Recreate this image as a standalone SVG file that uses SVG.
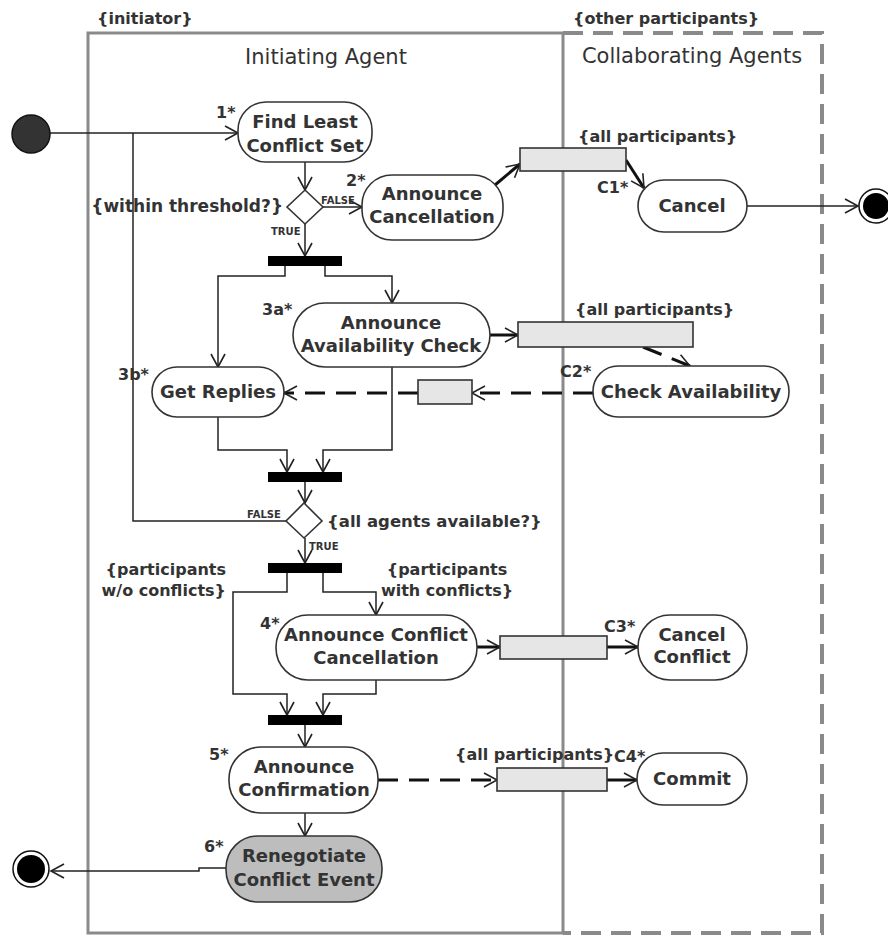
<svg xmlns="http://www.w3.org/2000/svg" width="888" height="936" viewBox="0 0 888 936">
<defs>
<style>
.t{font-family:"DejaVu Sans",Verdana,sans-serif;font-weight:bold;fill:#333}
.n{font-size:18px;text-anchor:middle}
.l{font-size:16px}
.s{font-size:10px}
.h{font-family:"DejaVu Sans",Verdana,sans-serif;font-size:21px;fill:#333;text-anchor:middle}
.node{fill:#fff;stroke:#333;stroke-width:1.6}
.obj{fill:#e6e6e6;stroke:#333;stroke-width:1.6}
.bar{fill:#000}
.c{fill:none;stroke:#222;stroke-width:1.5}
.k{fill:none;stroke:#111;stroke-width:3}
.d{fill:none;stroke:#111;stroke-width:3;stroke-dasharray:20 11}
.lane{fill:none;stroke:#8a8a8a;stroke-width:3}
.dl{fill:none;stroke:#8a8a8a;stroke-width:4;stroke-dasharray:20 10}
</style>
<marker id="a" markerUnits="userSpaceOnUse" markerWidth="16" markerHeight="16" refX="14" refY="8" orient="auto">
<path d="M1,1 L14,8 L1,15" fill="none" stroke="#222" stroke-width="1.6"/>
</marker>
</defs>
<rect width="888" height="936" fill="#fff"/>

<g id="lanes">
<rect class="lane" x="88" y="33" width="475" height="900"/>
<path class="dl" d="M563,33 H822 V933 H563"/>
<text class="t l" x="97" y="24">{initiator}</text>
<text class="t l" x="573" y="24">{other participants}</text>
<text class="h" x="326" y="64">Initiating Agent</text>
<text class="h" x="692" y="63">Collaborating Agents</text>
</g>

<g id="connectors">
<path class="c" d="M50,133 H238" marker-end="url(#a)"/>
<path class="c" d="M286,521 H133 V133"/>
<path class="c" d="M305,162 V190" marker-end="url(#a)"/>
<path class="c" d="M323,207 H362" marker-end="url(#a)"/>
<path class="c" d="M305,224 V256" marker-end="url(#a)"/>
<path class="k" d="M495,185 L520,164" marker-end="url(#a)"/>
<path class="k" d="M626,160 L644,188" marker-end="url(#a)"/>
<path class="c" d="M747,206 H858" marker-end="url(#a)"/>
<path class="c" d="M285,266 V276 H218 V367" marker-end="url(#a)"/>
<path class="c" d="M325,266 V276 H392 V303" marker-end="url(#a)"/>
<path class="k" d="M490,335 H518" marker-end="url(#a)"/>
<path class="d" d="M643,347 L690,366" marker-end="url(#a)"/>
<path class="d" d="M593,393 H472" marker-end="url(#a)"/>
<path class="d" d="M418,393 H284" marker-end="url(#a)"/>
<path class="c" d="M218,417 V450 H287 V472" marker-end="url(#a)"/>
<path class="c" d="M392,367 V450 H323 V472" marker-end="url(#a)"/>
<path class="c" d="M305,482 V503" marker-end="url(#a)"/>
<path class="c" d="M305,538 V563" marker-end="url(#a)"/>
<path class="c" d="M287,573 V592 H233 V694 H287 V715" marker-end="url(#a)"/>
<path class="c" d="M323,573 V592 H376 V615" marker-end="url(#a)"/>
<path class="c" d="M376,680 V694 H323 V715" marker-end="url(#a)"/>
<path class="k" d="M477,647 H500" marker-end="url(#a)"/>
<path class="k" d="M607,647 H638" marker-end="url(#a)"/>
<path class="c" d="M305,725 V747" marker-end="url(#a)"/>
<path class="d" d="M378,780 H497" marker-end="url(#a)"/>
<path class="k" d="M607,780 H637" marker-end="url(#a)"/>
<path class="c" d="M305,813 V836" marker-end="url(#a)"/>
<path class="c" d="M227,868 H199 V871 H51" marker-end="url(#a)"/>
</g>

<g id="start"><circle cx="31" cy="134" r="19" fill="#333" stroke="#111" stroke-width="1.5"/></g>

<g id="n1">
<rect class="node" x="238" y="102" width="134" height="60" rx="28"/>
<text class="t n" x="305" y="128">Find Least</text>
<text class="t n" x="305" y="152">Conflict Set</text>
<text class="t l" x="216" y="118">1*</text>
</g>

<g id="dec1">
<path class="node" d="M305,190 L323,207 L305,224 L287,207 Z"/>
<text class="t l" x="283" y="212" text-anchor="end" style="font-size:17px">{within threshold?}</text>
<text class="t s" x="321" y="204">FALSE</text>
<text class="t s" x="271" y="235">TRUE</text>
</g>

<g id="n2">
<rect class="node" x="362" y="175" width="141" height="65" rx="30"/>
<text class="t n" x="432" y="200">Announce</text>
<text class="t n" x="432" y="223">Cancellation</text>
<text class="t l" x="346" y="186">2*</text>
</g>

<g id="o1">
<rect class="obj" x="520" y="148" width="106" height="23"/>
<text class="t l" x="578" y="142">{all participants}</text>
</g>

<g id="c1">
<rect class="node" x="638" y="180" width="109" height="52" rx="26"/>
<text class="t n" x="692" y="212">Cancel</text>
<text class="t l" x="597" y="193">C1*</text>
</g>

<g id="end1">
<circle cx="876" cy="206" r="17" fill="#fff" stroke="#111" stroke-width="1.5"/>
<circle cx="876" cy="206" r="13" fill="#000"/>
</g>

<g id="bar1"><rect class="bar" x="268" y="256" width="74" height="10"/></g>

<g id="n3a">
<rect class="node" x="293" y="303" width="197" height="64" rx="32"/>
<text class="t n" x="391" y="329">Announce</text>
<text class="t n" x="391" y="352">Availability Check</text>
<text class="t l" x="262" y="315">3a*</text>
</g>

<g id="o2">
<rect class="obj" x="518" y="322" width="175" height="25"/>
<text class="t l" x="575" y="315">{all participants}</text>
</g>

<g id="c2">
<rect class="node" x="593" y="366" width="196" height="51" rx="25"/>
<text class="t n" x="691" y="398">Check Availability</text>
<text class="t l" x="560" y="377">C2*</text>
</g>

<g id="o2b"><rect class="obj" x="418" y="380" width="54" height="24"/></g>

<g id="n3b">
<rect class="node" x="152" y="367" width="132" height="50" rx="25"/>
<text class="t n" x="218" y="398">Get Replies</text>
<text class="t l" x="118" y="380">3b*</text>
</g>

<g id="bar2"><rect class="bar" x="268" y="472" width="74" height="10"/></g>

<g id="dec2">
<path class="node" d="M304,503 L322,521 L304,538 L286,521 Z"/>
<text class="t l" x="327" y="527" style="font-size:16.5px">{all agents available?}</text>
<text class="t s" x="247" y="518">FALSE</text>
<text class="t s" x="309" y="550">TRUE</text>
</g>

<g id="bar3">
<rect class="bar" x="268" y="563" width="74" height="10"/>
<text class="t l" x="226" y="575" text-anchor="end">{participants</text>
<text class="t l" x="226" y="596" text-anchor="end">w/o conflicts}</text>
<text class="t l" x="447" y="575" text-anchor="middle">{participants</text>
<text class="t l" x="447" y="596" text-anchor="middle">with conflicts}</text>
</g>

<g id="n4">
<rect class="node" x="276" y="615" width="201" height="65" rx="32"/>
<text class="t n" x="376" y="641">Announce Conflict</text>
<text class="t n" x="376" y="664">Cancellation</text>
<text class="t l" x="260" y="629">4*</text>
</g>

<g id="o3"><rect class="obj" x="500" y="636" width="107" height="23"/></g>

<g id="c3">
<rect class="node" x="638" y="615" width="109" height="65" rx="32"/>
<text class="t n" x="692" y="641">Cancel</text>
<text class="t n" x="692" y="663">Conflict</text>
<text class="t l" x="604" y="632">C3*</text>
</g>

<g id="bar4"><rect class="bar" x="268" y="715" width="74" height="10"/></g>

<g id="n5">
<rect class="node" x="229" y="747" width="149" height="66" rx="32"/>
<text class="t n" x="304" y="773">Announce</text>
<text class="t n" x="304" y="796">Confirmation</text>
<text class="t l" x="209" y="760">5*</text>
</g>

<g id="o4">
<rect class="obj" x="497" y="768" width="110" height="23"/>
<text class="t l" x="455" y="760">{all participants}</text>
</g>

<g id="c4">
<rect class="node" x="637" y="753" width="110" height="52" rx="26"/>
<text class="t n" x="692" y="785">Commit</text>
<text class="t l" x="614" y="762">C4*</text>
</g>

<g id="n6">
<rect x="226" y="836" width="156" height="66" rx="32" fill="#bdbdbd" stroke="#333" stroke-width="1.6"/>
<text class="t n" x="304" y="862">Renegotiate</text>
<text class="t n" x="304" y="886">Conflict Event</text>
<text class="t l" x="204" y="852">6*</text>
</g>

<g id="end2">
<circle cx="31" cy="869" r="18" fill="#fff" stroke="#111" stroke-width="1.5"/>
<circle cx="31" cy="869" r="14" fill="#000"/>
</g>
</svg>
